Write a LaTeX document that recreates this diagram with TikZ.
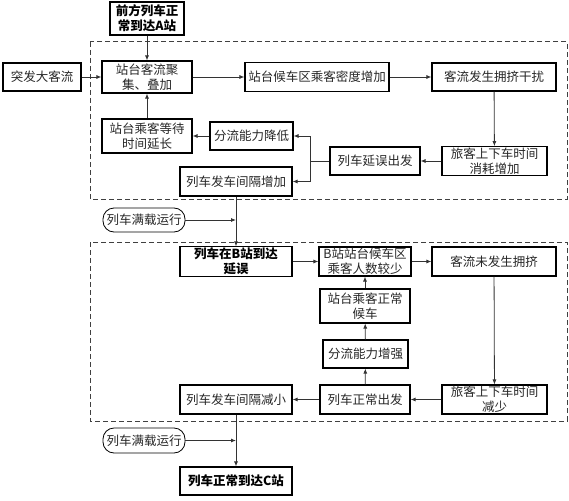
\documentclass[tikz,border=0pt]{standalone}
\usepackage{fontspec}
\setmainfont{Noto Sans CJK SC}
\usepackage{tikz}
\usetikzlibrary{arrows.meta}

\begin{document}
\begin{tikzpicture}[x=1pt,y=-1pt,
  box/.style={draw=black,line width=1.1pt,inner sep=1pt,align=center,
    font=\fontsize{12.5}{15}\selectfont,text=black!85},
  keybox/.style={box,font=\fontsize{12.5}{15}\selectfont\bfseries,text=black},
  pill/.style={box,line width=0.8pt,rounded corners=11pt},
  link/.style={draw=black!80,line width=0.8pt,-{Latex[length=5pt,width=4pt]}}]
\useasboundingbox (0,0) rectangle (569,500);
% dashed regions
\draw[black!75,line width=1pt,dash pattern=on 5pt off 3pt] (90,42) rectangle (567,199);
\draw[black!75,line width=1pt,dash pattern=on 5pt off 3pt] (90,242) rectangle (567,421);
% upper loop
\node[keybox,minimum width=74,minimum height=33] (front) at (147,18.5) {前方列车正\\常到达A站};
\node[box,minimum width=78,minimum height=28] (sudden) at (42,77) {突发大客流};
\node[box,minimum width=90,minimum height=32] (gather) at (147,77) {站台客流聚\\集、叠加};
\node[box,minimum width=144,minimum height=29] (density) at (317,77) {站台候车区乘客密度增加};
\node[box,minimum width=124,minimum height=28] (crowd) at (494,77) {客流发生拥挤干扰};
\node[box,minimum width=90,minimum height=34] (wait) at (147,136) {站台乘客等待\\时间延长};
\node[box,minimum width=83,minimum height=28] (reduce) at (251.5,136) {分流能力降低};
\node[box,minimum width=90,minimum height=28] (delay) at (375,161) {列车延误出发};
\node[box,minimum width=105,minimum height=28] (board) at (494.5,161) {旅客上下车时间\\消耗增加};
\node[box,minimum width=112,minimum height=29] (interval) at (236,181.5) {列车发车间隔增加};
\coordinate (split) at (310,161);
\draw[link] (front) -- (gather);
\draw[link] (sudden) -- (gather);
\draw[link] (gather) -- (density);
\draw[link] (density) -- (crowd);
\draw[link] (crowd) -- (board);
\draw[link] (board) -- (delay);
\draw[draw=black!80,line width=0.8pt] (delay.west) -- (split);
\draw[link] (split) |- (reduce.east);
\draw[link] (split) |- (interval.east);
\draw[link] (reduce) -- (wait);
\draw[link] (wait) -- (gather);
% between the regions
\node[pill,minimum width=82,minimum height=24] (full1) at (144,220) {列车满载运行};
\node[keybox,minimum width=112,minimum height=29] (barrive) at (236,261.5) {列车在B站到达\\延误};
\draw[link] (interval) -- (barrive);
\draw[link] (full1.east) -- (full1.east -| barrive.north);
% lower loop
\node[box,minimum width=92,minimum height=29] (fewer) at (365,261.5) {B站站台候车区\\乘客人数较少};
\node[box,minimum width=124,minimum height=29] (nocrowd) at (494,261.5) {客流未发生拥挤};
\node[box,minimum width=90,minimum height=34] (normwait) at (365,306) {站台乘客正常\\候车};
\node[box,minimum width=85,minimum height=28] (enhance) at (365.5,354) {分流能力增强};
\node[box,minimum width=90,minimum height=29] (normdep) at (365,399.5) {列车正常出发};
\node[box,minimum width=105,minimum height=29] (less) at (494.5,399.5) {旅客上下车时间\\减少};
\node[box,minimum width=112,minimum height=29] (decrease) at (236,399.5) {列车发车间隔减小};
\draw[link] (barrive) -- (fewer);
\draw[link] (fewer) -- (nocrowd);
\draw[link] (nocrowd) -- (less);
\draw[link] (less) -- (normdep);
\draw[link] (normdep) -- (decrease);
\draw[link] (normdep) -- (enhance);
\draw[link] (enhance) -- (normwait);
\draw[link] (normwait) -- (fewer);
% exit
\node[pill,minimum width=82,minimum height=25] (full2) at (144,440.5) {列车满载运行};
\node[keybox,minimum width=112,minimum height=28] (arrivec) at (236,481) {列车正常到达C站};
\draw[link] (decrease) -- (arrivec);
\draw[link] (full2.east) -- (full2.east -| arrivec.north);
\end{tikzpicture}
\end{document}
